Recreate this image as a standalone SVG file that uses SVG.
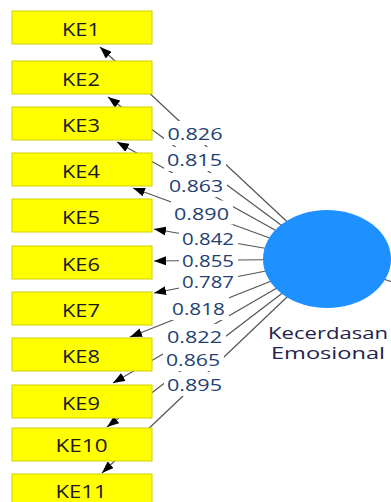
<svg xmlns="http://www.w3.org/2000/svg" width="391" height="502" viewBox="0 0 391 502">
<style>
.bg{fill:#ffffff}
.edge{stroke:#555555;stroke-width:1.2;fill:none}
.ind rect{fill:#ffff00;stroke:#d0d000;stroke-width:1}
.ind text{font-family:"Open Sans","Noto Sans",sans-serif;font-size:19px;font-weight:500;fill:#1a1a1a;text-anchor:middle}
.lat{fill:#1e90ff}
.latlbl{font-family:"Open Sans","Noto Sans",sans-serif;font-size:16.4px;font-weight:500;fill:#22224a;text-anchor:middle}
.w rect{fill:#ffffff}
.w text{font-family:"Open Sans","Noto Sans",sans-serif;font-size:17px;font-weight:500;fill:#233f72;text-anchor:middle}
</style>
<defs>
<marker id="arr" markerUnits="userSpaceOnUse" markerWidth="12" markerHeight="9" refX="12" refY="4.5" orient="auto">
<path d="M0,0 L12,4.5 L0,9 z" fill="#000000"/>
</marker>
</defs>
<rect class="bg" x="0" y="0" width="391" height="502"/>
<g id="connectors">
<line class="edge" x1="327" y1="259" x2="100" y2="47" marker-end="url(#arr)"/>
<line class="edge" x1="327" y1="259" x2="108" y2="97" marker-end="url(#arr)"/>
<line class="edge" x1="327" y1="259" x2="117" y2="142" marker-end="url(#arr)"/>
<line class="edge" x1="327" y1="259" x2="133" y2="188" marker-end="url(#arr)"/>
<line class="edge" x1="327" y1="259" x2="154" y2="229" marker-end="url(#arr)"/>
<line class="edge" x1="327" y1="259" x2="154" y2="261" marker-end="url(#arr)"/>
<line class="edge" x1="327" y1="259" x2="154" y2="293" marker-end="url(#arr)"/>
<line class="edge" x1="327" y1="259" x2="130" y2="337" marker-end="url(#arr)"/>
<line class="edge" x1="327" y1="259" x2="113" y2="383" marker-end="url(#arr)"/>
<line class="edge" x1="327" y1="259" x2="107" y2="427" marker-end="url(#arr)"/>
<line class="edge" x1="327" y1="259" x2="102" y2="473" marker-end="url(#arr)"/>
<line class="edge" x1="327" y1="259" x2="420" y2="292"/>
</g>
<g id="KE1" class="ind"><rect x="12" y="11" width="140" height="33"/><text x="81" y="35.5" textLength="38" lengthAdjust="spacingAndGlyphs">KE1</text></g>
<g id="KE2" class="ind"><rect x="12" y="61" width="140" height="33"/><text x="81" y="85.5" textLength="38" lengthAdjust="spacingAndGlyphs">KE2</text></g>
<g id="KE3" class="ind"><rect x="12" y="107" width="140" height="33"/><text x="81" y="131.5" textLength="38" lengthAdjust="spacingAndGlyphs">KE3</text></g>
<g id="KE4" class="ind"><rect x="12" y="153" width="140" height="33"/><text x="81" y="177.5" textLength="38" lengthAdjust="spacingAndGlyphs">KE4</text></g>
<g id="KE5" class="ind"><rect x="12" y="199" width="140" height="33"/><text x="81" y="223.5" textLength="38" lengthAdjust="spacingAndGlyphs">KE5</text></g>
<g id="KE6" class="ind"><rect x="12" y="246" width="140" height="33"/><text x="81" y="270.5" textLength="38" lengthAdjust="spacingAndGlyphs">KE6</text></g>
<g id="KE7" class="ind"><rect x="12" y="292" width="140" height="33"/><text x="81" y="316.5" textLength="38" lengthAdjust="spacingAndGlyphs">KE7</text></g>
<g id="KE8" class="ind"><rect x="12" y="338" width="140" height="33"/><text x="81" y="362.5" textLength="38" lengthAdjust="spacingAndGlyphs">KE8</text></g>
<g id="KE9" class="ind"><rect x="12" y="385" width="140" height="33"/><text x="81" y="409.5" textLength="38" lengthAdjust="spacingAndGlyphs">KE9</text></g>
<g id="KE10" class="ind"><rect x="12" y="428" width="140" height="33"/><text x="81.5" y="451.5" textLength="52" lengthAdjust="spacingAndGlyphs">KE10</text></g>
<g id="KE11" class="ind"><rect x="12" y="474" width="140" height="33"/><text x="81" y="498" textLength="51" lengthAdjust="spacingAndGlyphs">KE11</text></g>
<g id="KecerdasanEmosional">
<ellipse class="lat" cx="327" cy="259" rx="64" ry="49"/>
<text class="latlbl" x="328" y="339" textLength="120" lengthAdjust="spacingAndGlyphs">Kecerdasan</text>
<text class="latlbl" x="328" y="358.5" textLength="114" lengthAdjust="spacingAndGlyphs">Emosional</text>
</g>
<g id="connector-labels" class="w">
<rect x="164" y="121" width="63" height="24"/><text x="195" y="140" textLength="55" lengthAdjust="spacingAndGlyphs">0.826</text>
<rect x="164" y="147" width="62" height="24"/><text x="194.5" y="166" textLength="55" lengthAdjust="spacingAndGlyphs">0.815</text>
<rect x="166" y="173" width="61" height="24"/><text x="196" y="192" textLength="54" lengthAdjust="spacingAndGlyphs">0.863</text>
<rect x="171" y="200.5" width="62" height="24"/><text x="201.5" y="219.5" textLength="55" lengthAdjust="spacingAndGlyphs">0.890</text>
<rect x="179" y="227" width="59" height="22"/><text x="208" y="245" textLength="52" lengthAdjust="spacingAndGlyphs">0.842</text>
<rect x="179" y="249" width="59" height="22"/><text x="208" y="267" textLength="52" lengthAdjust="spacingAndGlyphs">0.855</text>
<rect x="179" y="270" width="59" height="22"/><text x="208" y="288" textLength="52" lengthAdjust="spacingAndGlyphs">0.787</text>
<rect x="169" y="296" width="60" height="24"/><text x="198.5" y="315" textLength="53" lengthAdjust="spacingAndGlyphs">0.818</text>
<rect x="164" y="324" width="62" height="24"/><text x="194.5" y="343" textLength="55" lengthAdjust="spacingAndGlyphs">0.822</text>
<rect x="163" y="347" width="61" height="24"/><text x="193" y="366" textLength="54" lengthAdjust="spacingAndGlyphs">0.865</text>
<rect x="164" y="372" width="62" height="24"/><text x="194.5" y="391" textLength="55" lengthAdjust="spacingAndGlyphs">0.895</text>
</g>
</svg>
